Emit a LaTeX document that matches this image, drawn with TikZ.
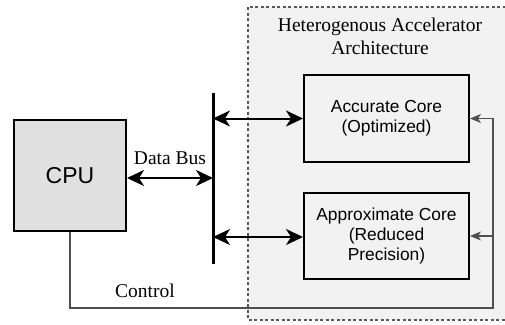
\documentclass[tikz,border=0pt]{standalone}
\usepackage{fontspec}
\setmainfont{Liberation Serif}
\newfontfamily\boxfont{Liberation Sans}
\usetikzlibrary{positioning, arrows.meta}
\definecolor{regionfill}{HTML}{F2F2F2}
\definecolor{cpufill}{HTML}{E0E0E0}
\definecolor{ctrlgray}{HTML}{505050}

\begin{document}
\begin{tikzpicture}[
      x=1pt, y=-1pt,
      node distance=29pt and 2cm,
      block/.style={
        draw,
        rectangle,
        align=center,
        minimum width=165pt,
        minimum height=87pt,
        line width=2pt,
        font=\boxfont\fontsize{17.4}{20}\selectfont
      },
      label/.style={font=\fontsize{19.5}{23}\selectfont, align=center},
      arrow/.style={{Stealth[length=17pt, width=16pt, inset=5pt]}-{Stealth[length=17pt, width=16pt, inset=5pt]}, line width=2pt},
      ctrl/.style={-{Stealth[length=11pt, width=9pt, inset=3pt]}, line width=1.4pt, draw=ctrlgray}
    ]
    \useasboundingbox (0,0) rectangle (505,324);

    % Accelerator region (runs off the right edge)
    \draw [dashed, dash pattern=on 3pt off 2.5pt, line width=1.1pt, draw=black!65, fill=regionfill]
      (248,7) rectangle (512,320);
    \node [label] (title) at (380,36.5) {Heterogenous Accelerator\\Architecture};

    % Place nodes
    \node [block, fill=cpufill, minimum width=112pt, minimum height=111pt,
      font=\boxfont\fontsize{23}{27}\selectfont] (cpu) at (70,175.5) {CPU};
    \node [block] (acc) at (386.5,118.5) {Accurate Core\\(Optimized)};
    \node [block, below=of acc, minimum height=86pt] (apx) {Approximate Core\\(Reduced\\Precision)};

    % Bus line
    \coordinate (bustop) at (213,93);
    \coordinate (busbot) at (213,264);
    \draw [line width=3pt] (bustop) -- (busbot);

    % Data paths
    \draw [arrow] (cpu.east |- 0,178) -- (bustop |- 0,178)
      node[midway, above=9pt, label] (databus) {Data Bus};
    \draw [arrow] (bustop |- acc.west) -- (acc.west);
    \draw [arrow] (bustop |- 0,237) -- (apx.west |- 0,237);

    % Control path from the CPU round to both cores
    \coordinate (ctrlcorner) at (493,308);
    \draw [ctrl] (cpu.south) |- (ctrlcorner) |- (acc.east);
    \draw [ctrl] (ctrlcorner |- apx.east) -- (apx.east);
    \node [label] (control) at (145,291) {Control};
  \end{tikzpicture}
\end{document}
